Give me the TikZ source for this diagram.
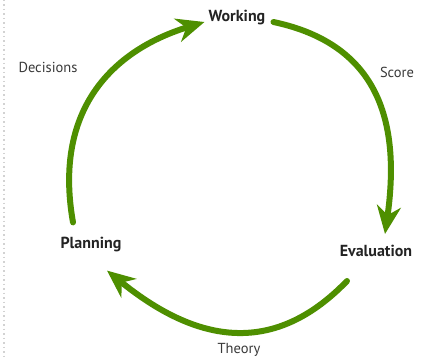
\documentclass[tikz,border=0pt]{standalone}
\usepackage{fontspec}
\setmainfont{PT Sans}
\usepackage{tikz}
\usetikzlibrary{arrows.meta}
\definecolor{CycleGreen}{RGB}{78,143,0}
\definecolor{LabelGrey}{RGB}{35,35,35}
\tikzset{
	stage/.style={font=\fontsize{16}{19}\selectfont\bfseries, text=LabelGrey, inner sep=3pt},
	edgelabel/.style={font=\fontsize{14.5}{17}\selectfont, text=LabelGrey!90, inner sep=2pt},
	cyclearrow/.style={CycleGreen, line width=6pt, line cap=round,
		-{Stealth[length=28pt, width=24pt, inset=9pt]}},
}

\begin{document}
\begin{tikzpicture}[x=1pt, y=1pt]
	\useasboundingbox (0,0) rectangle (425,359);
	
	% margin rule
	\draw [gray!35, line width=1.2pt, dash pattern=on 1.5pt off 3pt] (4,359) -- (4,0);
	
	% stages
	\node [stage] (working) at (237,341) {Working};
	\node [stage] (evaluation) at (376,108) {Evaluation};
	\node [stage] (planning) at (91,114) {Planning};
	
	% what flows between them
	\node [edgelabel] (decisions) at (48,292) {Decisions};
	\node [edgelabel] (score) at (397,287) {Score};
	\node [edgelabel] (theory) at (239,9) {Theory};
	
	% the cycle
	\draw [cyclearrow] ([shift={(-18,12)}]planning.north)
		.. controls +(100:120) and +(197:90) .. ([shift={(-1,-4)}]working.west);
	\draw [cyclearrow] ([shift={(5,-4)}]working.east)
		.. controls +(-12:110) and +(82:110) .. ([shift={(9,8)}]evaluation.north);
	\draw [cyclearrow] ([shift={(-29,-21)}]evaluation.south)
		.. controls +(226:110) and +(-39:110) .. ([shift={(16,-15)}]planning.south);
\end{tikzpicture}
\end{document}
